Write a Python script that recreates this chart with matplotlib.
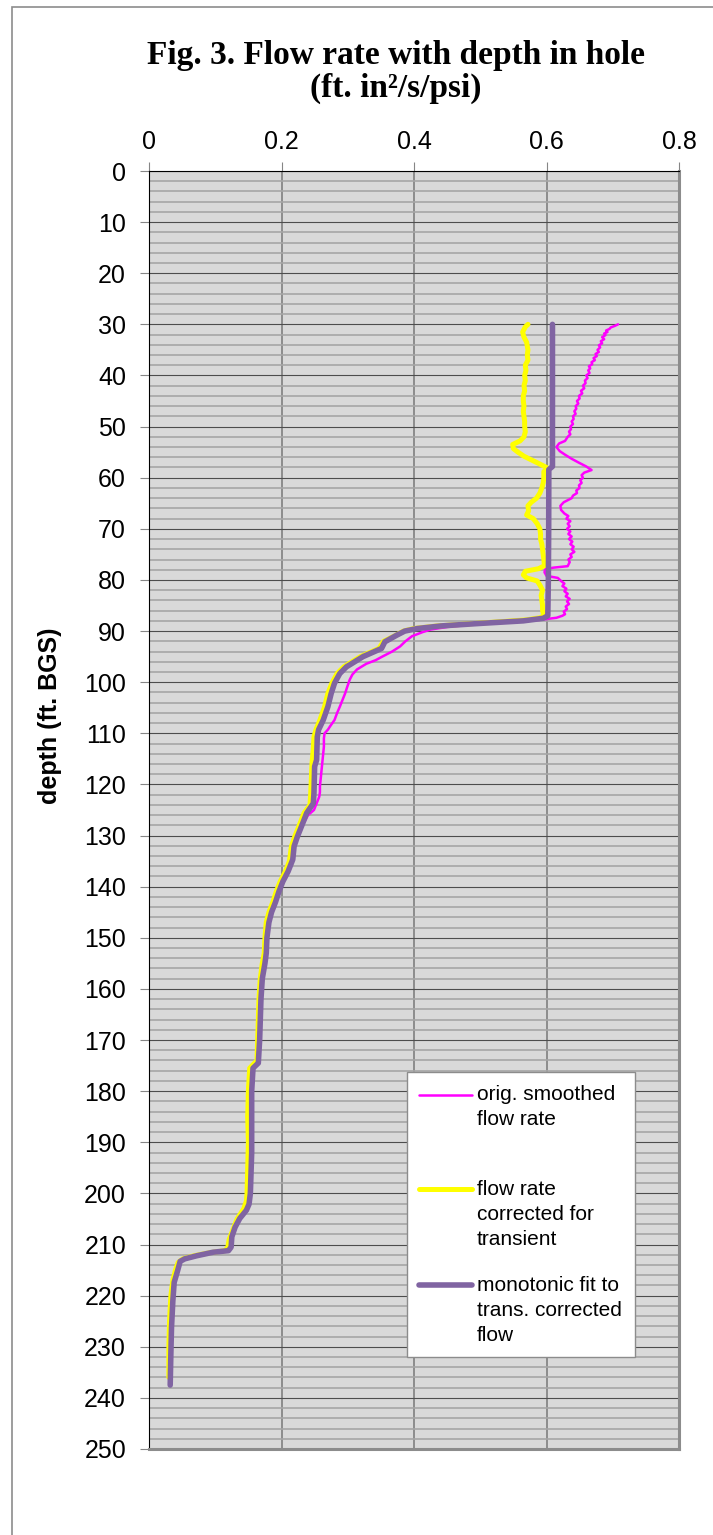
import matplotlib
matplotlib.use('Agg')
import matplotlib.pyplot as plt
import numpy as np
from matplotlib.patches import Rectangle

# depth (ft BGS) and flow rate values
orig_depth = [30, 30.3, 30.6, 30.9, 31.2, 31.5, 31.8, 32.1, 32.5, 32.9, 33.3, 33.7, 34.1, 34.5,
              35, 35.4, 35.8, 36.2, 36.6, 37, 37.4, 37.8, 38.2, 38.6, 39, 39.5, 40, 40.5, 41,
              41.5, 42, 42.5, 43, 43.5, 44, 44.5, 45, 45.5, 46, 46.5, 47, 47.5, 48, 48.5, 49,
              49.5, 50, 50.5, 51, 51.5, 52, 52.8, 53.3, 54, 54.8, 55.5, 56.3, 57, 57.8, 58.5,
              59, 59.5, 60, 60.5, 61, 61.5, 62, 62.5, 63, 63.5, 64, 64.8, 65.5, 66.3, 67, 67.5,
              68, 68.5, 69, 69.5, 70, 70.5, 71, 71.5, 72, 72.5, 73, 73.5, 74, 74.5, 75, 75.5, 76,
              76.5, 77.3, 77.6, 77.9, 78.5, 79.2, 79.6, 80.2, 80.7, 81.2, 81.7, 82.2, 82.7, 83.2,
              83.7, 84.2, 84.7, 85.2, 85.7, 86.2, 86.7, 87, 87.4, 87.8, 88.2, 88.7, 89.2, 89.7,
              90.2, 91, 92, 93, 94, 95, 95.7, 96.4, 97.5, 98.5, 99.5, 101, 102.2, 103.5, 104.8,
              106, 107.4, 108.5, 109.3, 110, 111, 112.6, 114, 115.2, 116.5, 117.8, 119, 120.4,
              121.5, 122.4, 123.7, 125, 126, 128, 130, 132, 135, 137, 139, 141, 143, 145, 147,
              150, 153, 155, 158, 162, 166, 170, 174, 175.5, 180, 185, 190, 195, 200, 201.5, 203,
              205, 207, 209, 210.5, 211.2, 211.6, 212.2, 212.8, 213.5, 215, 217, 220, 225, 230,
              236]
orig_flow = [0.708, 0.703, 0.697, 0.695, 0.690, 0.692, 0.687, 0.689, 0.684, 0.687, 0.682, 0.684,
             0.679, 0.681, 0.677, 0.679, 0.674, 0.676, 0.671, 0.673, 0.668, 0.669, 0.664, 0.666,
             0.663, 0.665, 0.660, 0.662, 0.658, 0.659, 0.655, 0.657, 0.652, 0.654, 0.649, 0.650,
             0.646, 0.648, 0.644, 0.645, 0.642, 0.644, 0.640, 0.641, 0.638, 0.640, 0.636, 0.637,
             0.634, 0.636, 0.632, 0.628, 0.619, 0.615, 0.620, 0.628, 0.638, 0.648, 0.660, 0.668,
             0.657, 0.653, 0.655, 0.651, 0.653, 0.649, 0.650, 0.645, 0.646, 0.640, 0.638, 0.626,
             0.621, 0.622, 0.627, 0.633, 0.630, 0.636, 0.632, 0.635, 0.631, 0.636, 0.633, 0.638,
             0.634, 0.639, 0.636, 0.641, 0.638, 0.642, 0.636, 0.638, 0.633, 0.635, 0.632, 0.610,
             0.598, 0.597, 0.600, 0.617, 0.622, 0.627, 0.624, 0.630, 0.627, 0.632, 0.629, 0.635,
             0.631, 0.634, 0.629, 0.631, 0.626, 0.628, 0.624, 0.615, 0.590, 0.545, 0.490, 0.450,
             0.425, 0.413, 0.397, 0.387, 0.379, 0.367, 0.352, 0.342, 0.328, 0.314, 0.307, 0.303,
             0.299, 0.296, 0.292, 0.288, 0.284, 0.280, 0.274, 0.270, 0.265, 0.264, 0.264, 0.263,
             0.262, 0.261, 0.260, 0.259, 0.258, 0.258, 0.257, 0.253, 0.249, 0.240, 0.232, 0.226,
             0.220, 0.216, 0.210, 0.202, 0.196, 0.191, 0.186, 0.181, 0.178, 0.177, 0.174, 0.171,
             0.169, 0.168, 0.167, 0.166, 0.157, 0.155, 0.155, 0.156, 0.155, 0.153, 0.150, 0.146,
             0.136, 0.129, 0.125, 0.123, 0.118, 0.095, 0.070, 0.053, 0.046, 0.043, 0.039, 0.036,
             0.034, 0.033, 0.032]

corr_depth = [30, 30.5, 31.5, 32.5, 33.5, 35, 36, 37, 38, 39, 40, 41, 42, 43, 44, 45, 46, 47, 48,
              49, 50, 51, 52, 52.8, 53.5, 54.3, 55, 55.8, 56.5, 57.2, 58, 58.3, 58.8, 60, 61, 62,
              63, 64, 64.8, 65.5, 66.5, 67.3, 68, 69, 70, 71, 72, 73, 74, 75, 76, 77.2, 77.8, 78.3,
              79, 79.6, 80.2, 81, 82, 83, 84, 85, 86, 87, 87.4, 87.8, 88.2, 88.6, 89, 89.5, 90, 91,
              92, 93.4, 95, 97, 98.3, 100.2, 102.2, 104.8, 107.4, 109.3, 110.7, 113, 116, 119, 122,
              124, 125.6, 127.6, 130.2, 132.1, 135, 137, 139, 141, 143, 145, 147, 150, 153, 155,
              158, 162, 166, 170, 174, 175.5, 180, 185, 190, 195, 200, 201.5, 203, 205, 207, 209,
              210.5, 211.2, 211.6, 212.2, 212.8, 213.5, 215, 217, 220, 225, 230, 236]
corr_flow = [0.572, 0.568, 0.564, 0.566, 0.570, 0.572, 0.571, 0.572, 0.568, 0.569, 0.567, 0.568,
             0.566, 0.567, 0.565, 0.565, 0.566, 0.565, 0.566, 0.567, 0.567, 0.568, 0.566, 0.560,
             0.549, 0.550, 0.557, 0.566, 0.577, 0.588, 0.600, 0.603, 0.596, 0.596, 0.595, 0.593,
             0.590, 0.585, 0.577, 0.572, 0.573, 0.570, 0.580, 0.586, 0.590, 0.591, 0.591, 0.593,
             0.594, 0.595, 0.596, 0.597, 0.588, 0.568, 0.565, 0.570, 0.586, 0.590, 0.594, 0.592,
             0.593, 0.594, 0.594, 0.596, 0.590, 0.570, 0.527, 0.480, 0.435, 0.400, 0.384, 0.370,
             0.354, 0.347, 0.319, 0.294, 0.284, 0.276, 0.270, 0.265, 0.258, 0.252, 0.249, 0.248,
             0.246, 0.245, 0.244, 0.243, 0.234, 0.228, 0.220, 0.215, 0.212, 0.206, 0.198, 0.192,
             0.187, 0.181, 0.177, 0.175, 0.174, 0.171, 0.168, 0.166, 0.165, 0.164, 0.163, 0.152,
             0.150, 0.149, 0.150, 0.149, 0.148, 0.147, 0.143, 0.133, 0.127, 0.121, 0.119, 0.115,
             0.092, 0.068, 0.051, 0.044, 0.040, 0.036, 0.033, 0.031, 0.030, 0.030]

mono_depth = [30, 57.8, 58.4, 70, 80, 87, 87.5, 88.0, 88.5, 89.0, 89.5, 90.0, 90.8, 92.1, 93.4,
              95.0, 97.0, 98.3, 100.2, 102.2, 104.8, 107.4, 109.3, 110.7, 115.2, 116.5, 121.7,
              123.7, 125.6, 127.6, 130.2, 132.1, 134.7, 137, 139, 141, 143, 145, 147, 150, 153,
              155, 158, 162, 166, 170, 174.5, 175.5, 180, 185, 192, 200, 202.1, 203.3, 204.9,
              206.6, 208.5, 210.5, 211.2, 211.5, 212.2, 212.8, 213.3, 215.2, 217.4, 221, 226.2,
              231.4, 237.5]
mono_flow = [0.609, 0.609, 0.6035, 0.6033, 0.6028, 0.602, 0.595, 0.565, 0.500, 0.440, 0.405,
             0.386, 0.374, 0.356, 0.351, 0.323, 0.298, 0.288, 0.280, 0.275, 0.270, 0.263, 0.256,
             0.254, 0.253, 0.250, 0.249, 0.248, 0.238, 0.232, 0.224, 0.219, 0.217, 0.210, 0.202,
             0.196, 0.191, 0.185, 0.181, 0.178, 0.177, 0.175, 0.171, 0.169, 0.168, 0.167, 0.165,
             0.157, 0.155, 0.155, 0.155, 0.153, 0.151, 0.147, 0.137, 0.130, 0.125, 0.124, 0.120,
             0.097, 0.072, 0.054, 0.047, 0.043, 0.038, 0.036, 0.034, 0.033, 0.032]

x_ticks = [0, 0.2, 0.4, 0.6, 0.8]
x_tick_labels = ['0', '0.2', '0.4', '0.6', '0.8']
y_ticks = list(range(0, 251, 10))

series_labels = ['orig. smoothed\nflow rate',
                 'flow rate\ncorrected for\ntransient',
                 'monotonic fit to\ntrans. corrected\nflow']
series_colors = ['#ff00ff', '#ffff00', '#8064a2']
series_widths = [1.8, 3.6, 4.0]

plt.rcParams['font.family'] = ['Liberation Sans', 'DejaVu Sans']

fig = plt.figure(figsize=(7.13, 15.35), dpi=100)
ax = fig.add_axes([149/713, 1 - 1449/1535, 530/713, 1278/1535])
ax.set_facecolor('#d9d9d9')

# figure outline (cut off at right / bottom in the original)
fig.add_artist(Rectangle((12/713, -0.1), 1.2, 1.1 - 7/1535, transform=fig.transFigure,
                         fill=False, ec='#8c8c8c', lw=1.2))

data = [(orig_depth, orig_flow), (corr_depth, corr_flow), (mono_depth, mono_flow)]
for (d, f), c, w in zip(data, series_colors, series_widths):
    ax.plot(f, d, color=c, lw=w, solid_joinstyle='round', solid_capstyle='round', zorder=3)

ax.set_xlim(0, 0.8)
ax.set_ylim(250, 0)
ax.xaxis.tick_top()
ax.set_xticks(x_ticks)
ax.set_xticklabels(x_tick_labels)
ax.set_yticks(y_ticks)
ax.set_yticks(np.arange(0, 251, 2), minor=True)

ax.set_axisbelow(True)
ax.grid(which='minor', axis='y', color='#a6a6a6', lw=1.2)
ax.grid(which='major', axis='y', color='#4d4d4d', lw=0.8)
ax.grid(which='major', axis='x', color='#868686', lw=1.3)

ax.tick_params(axis='both', which='major', length=6.5, width=0.8, color='#868686',
               labelsize=18)
ax.tick_params(axis='y', which='major', pad=10)
ax.tick_params(axis='x', which='major', pad=6)
ax.tick_params(axis='both', which='minor', length=0)

for s in ['left', 'top']:
    ax.spines[s].set_color('black')
    ax.spines[s].set_linewidth(0.8)
for s in ['right', 'bottom']:
    ax.spines[s].set_color('#8c8c8c')
    ax.spines[s].set_linewidth(2.2)

fig.text(50/713, 1 - 716/1535, 'depth (ft. BGS)', rotation=90, ha='center', va='center',
         fontsize=18, fontweight='bold')

fig.text(396/713, 1 - 72/1535, 'Fig. 3. Flow rate with depth in hole\n(ft. in²/s/psi)',
         ha='center', va='center', fontsize=24, fontweight='bold',
         family=['Liberation Serif', 'DejaVu Serif'], linespacing=1.1)

# legend drawn Excel style: handle level with the first line of each label
ax.add_patch(Rectangle((0.487, 0.072), 0.43, 0.223, transform=ax.transAxes,
                       fc='white', ec='#8c8c8c', lw=1.0, zorder=5))
line_step = 25 / 1278
entry_y = [0.277, 0.2034, 0.1283]
for lab, c, w, y0 in zip(series_labels, series_colors, series_widths, entry_y):
    ax.plot([0.509, 0.609], [y0, y0], transform=ax.transAxes, color=c, lw=w,
            solid_capstyle='round', zorder=6)
    for k, part in enumerate(lab.split('\n')):
        ax.text(0.619, y0 - k * line_step, part, transform=ax.transAxes, ha='left',
                va='center', fontsize=15, zorder=6)

fig.savefig('out.png', dpi=100)
